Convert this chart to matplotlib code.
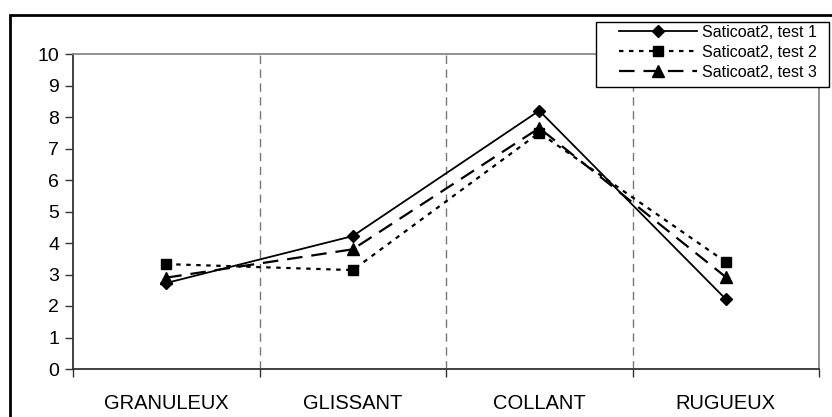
import matplotlib
matplotlib.use('Agg')
import matplotlib.pyplot as plt
from matplotlib.patches import Rectangle

# === Data ===
categories = ['GRANULEUX', 'GLISSANT', 'COLLANT', 'RUGUEUX']
test1 = [2.73, 4.22, 8.2, 2.22]
test2 = [3.33, 3.14, 7.5, 3.4]
test3 = [2.9, 3.8, 7.65, 2.92]
labels = ['Saticoat2, test 1', 'Saticoat2, test 2', 'Saticoat2, test 3']
yticks = list(range(0, 11))

plt.rcParams['font.family'] = ['Liberation Sans', 'DejaVu Sans']

fig = plt.figure(figsize=(8.32, 4.17), dpi=100)
ax = fig.add_axes([73 / 832, 1 - 369 / 417, 746 / 832, 315 / 417])

x = range(len(categories))
ax.plot(x, test1, color='black', lw=1.3, ls='-', marker='D', ms=6, label=labels[0])
ax.plot(x, test2, color='black', lw=1.6, ls=(0, (2, 2.5)), marker='s', ms=7, label=labels[1])
ax.plot(x, test3, color='black', lw=1.6, ls=(0, (7, 4)), marker='^', ms=8, label=labels[2])

# dashed separators between categories
for b in [0.5, 1.5, 2.5]:
    ax.axvline(b, color='#777777', lw=1, ls=(0, (6, 4)), zorder=0)

ax.set_xlim(-0.5, 3.5)
ax.set_ylim(0, 10)
ax.set_yticks(yticks)
ax.set_xticks(x)
ax.set_xticklabels(categories, fontsize=14.5)
ax.set_xticks([-0.5, 0.5, 1.5, 2.5, 3.5], minor=True)
ax.tick_params(axis='x', which='major', length=0, pad=18)
ax.tick_params(axis='x', which='minor', length=6, width=1, color='#333333')
ax.tick_params(axis='y', length=6, width=1, color='#333333', labelsize=14, pad=4)

for s in ['left', 'bottom']:
    ax.spines[s].set_color('#333333')
    ax.spines[s].set_linewidth(1.3)
for s in ['top', 'right']:
    ax.spines[s].set_color('#888888')
    ax.spines[s].set_linewidth(1.3)

# legend box drawn separately, entries placed inside it
box = Rectangle((596 / 832, 1 - 87 / 417), 233 / 832, 65 / 417,
                transform=fig.transFigure, facecolor='white',
                edgecolor='black', lw=1, zorder=5, clip_on=False)
ax.add_patch(box)
leg = ax.legend(loc='upper left', bbox_to_anchor=(619 / 832, 1 - 25 / 417),
                bbox_transform=fig.transFigure, fontsize=11.5, frameon=False,
                handlelength=4.9, handletextpad=0.3, labelspacing=0.3,
                borderpad=0, borderaxespad=0)
leg.set_zorder(6)

# outer chart border
fig.patches.append(Rectangle((10 / 832, -0.1), 1.2, 1 - 15 / 417 + 0.1,
                             transform=fig.transFigure, fill=False,
                             edgecolor='black', lw=2))

plt.savefig('out.png', dpi=100)
